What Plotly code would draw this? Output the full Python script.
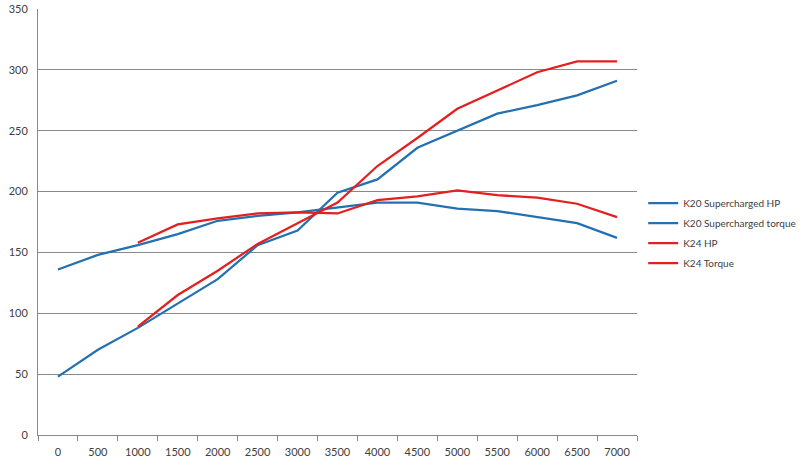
import plotly.graph_objects as go

# RPM categories
rpm = ["0", "500", "1000", "1500", "2000", "2500", "3000", "3500",
       "4000", "4500", "5000", "5500", "6000", "6500", "7000"]

k20_hp = [48, 70, 88, 108, 128, 156, 168, 199, 210, 236, 250, 264, 271, 279, 291]
k20_torque = [136, 148, 156, 165, 176, 180, 183, 187, 191, 191, 186, 184, 179, 174, 162]
k24_hp = [None, None, 89, 115, 135, 157, 174, 191, 221, 244, 268, 283, 298, 307, 307]
k24_torque = [None, None, 158, 173, 178, 182, 183, 182, 193, 196, 201, 197, 195, 190, 179]

BLUE = "#2371B1"
RED = "#E2201F"
FONT = "Lato, 'Open Sans', sans-serif"

fig = go.Figure()

series = [
    ("K20 Supercharged HP", k20_hp, BLUE),
    ("K20 Supercharged torque", k20_torque, BLUE),
    ("K24 HP", k24_hp, RED),
    ("K24 Torque", k24_torque, RED),
]
for name, vals, color in series:
    fig.add_trace(go.Scatter(x=rpm, y=vals, mode="lines", name=name, legendgroup=name,
                             line=dict(color=color, width=2.25)))

fig.update_layout(
    width=800, height=469,
    margin=dict(l=38, r=163, t=9, b=34),
    paper_bgcolor="white",
    plot_bgcolor="white",
    font=dict(family=FONT, size=11, color="#404040"),
    xaxis=dict(type="category", range=[-0.5, 14.5], showgrid=False, zeroline=False,
               showline=True, linecolor="#898989", linewidth=1,
               ticks="outside", tickson="boundaries", ticklen=5, tickcolor="#898989",
               ticklabelstandoff=7, automargin=False,
               tickfont=dict(size=11, color="#404040")),
    yaxis=dict(range=[0, 350], dtick=50, showgrid=True, gridcolor="#898989", gridwidth=1,
               zeroline=False, showline=True, linecolor="#898989", linewidth=1,
               ticks="", ticklabelstandoff=7, automargin=False,
               tickfont=dict(size=11, color="#404040")),
    legend=dict(xref="container", yref="container", x=0.804, y=0.598,
                xanchor="left", yanchor="top",
                font=dict(size=10, color="#404040"), tracegroupgap=1,
                itemwidth=30, bgcolor="rgba(0,0,0,0)"),
)

# drop the page's default body margin so the chart sits flush in the window
fig.write_html("out.html", config={"displayModeBar": False},
               post_script="document.body.style.margin = '0';")
